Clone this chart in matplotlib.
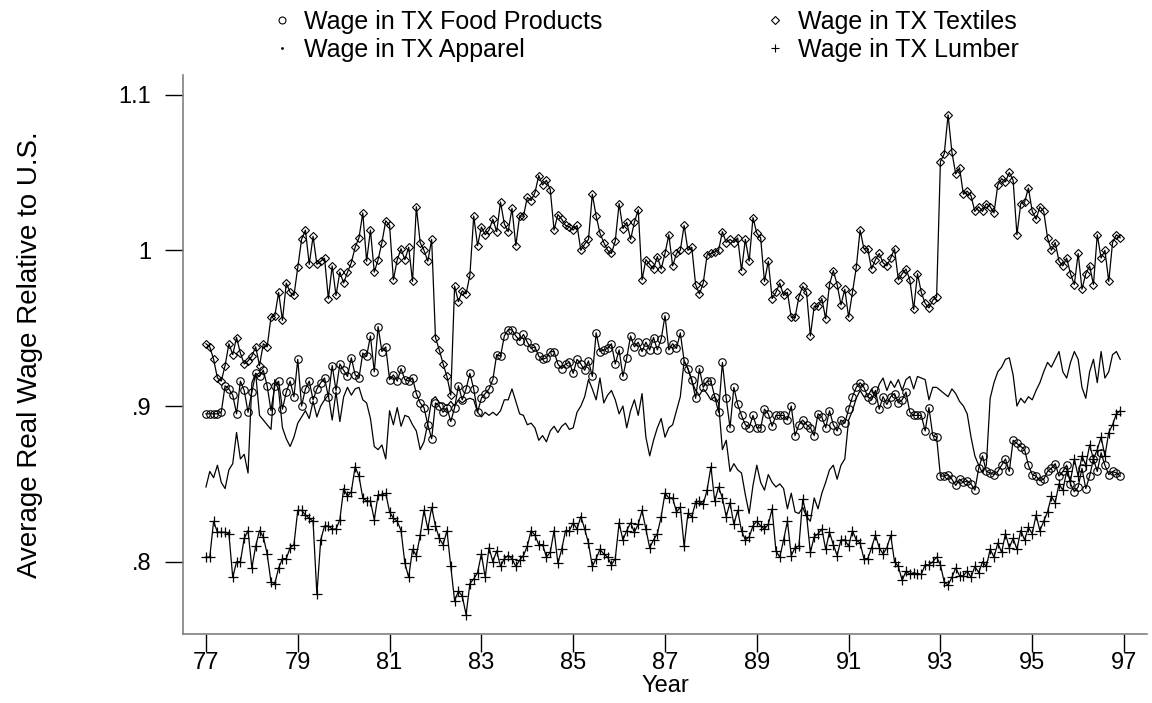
import numpy as np
import matplotlib.pyplot as plt
from matplotlib.lines import Line2D

plt.rcParams['font.family'] = ['Liberation Sans', 'DejaVu Sans']

# monthly observations, Jan 1977 - Dec 1996
months = 77 + np.arange(240) / 12.0

food = [
    .895, .895, .895, .895, .896, .913, .911, .907, .895, .916, .910, .896,
    .909, .921, .919, .923, .913, .897, .913, .916, .898, .909, .916, .906,
    .930, .900, .911, .916, .904, .911, .915, .918, .906, .926, .910, .927,
    .923, .919, .931, .920, .918, .934, .932, .945, .922, .951, .935, .938,
    .917, .920, .916, .924, .917, .916, .918, .908, .902, .899, .888, .879,
    .902, .900, .896, .899, .890, .899, .913, .904, .911, .921, .911, .896,
    .905, .908, .911, .917, .933, .932, .945, .949, .949, .945, .942, .946,
    .941, .937, .938, .932, .930, .931, .935, .935, .927, .924, .927, .928,
    .921, .930, .927, .923, .929, .919, .947, .935, .936, .937, .940, .927,
    .936, .919, .931, .945, .938, .941, .935, .941, .936, .944, .936, .943,
    .958, .936, .940, .937, .947, .929, .924, .917, .905, .924, .912, .916,
    .916, .906, .896, .928, .905, .886, .912, .901, .894, .888, .886, .894,
    .886, .886, .898, .895, .887, .894, .894, .894, .891, .900, .881, .888,
    .891, .888, .886, .881, .895, .893, .886, .897, .888, .884, .891, .889,
    .898, .906, .912, .915, .912, .906, .904, .910, .898, .906, .901, .906,
    .908, .902, .904, .909, .896, .894, .894, .894, .884, .899, .881, .880,
    .855, .855, .856, .853, .849, .853, .851, .852, .850, .846, .860, .868,
    .858, .857, .856, .858, .862, .866, .858, .878, .876, .874, .872, .862,
    .856, .855, .852, .853, .858, .860, .863, .855, .858, .862, .850, .845,
    .848, .860, .847, .855, .866, .858, .870, .862, .856, .858, .857, .855,
]

textiles = [
    .940, .938, .930, .918, .916, .926, .940, .933, .944, .934, .927, .929,
    .932, .938, .926, .940, .938, .957, .958, .973, .955, .979, .973, .971,
    .989, 1.007, 1.013, .991, 1.009, .991, .993, .995, .969, .990, .971, .986,
    .979, .986, .992, 1.002, 1.008, 1.024, .993, 1.013, .986, .994, 1.005, 1.019,
    1.016, .981, .994, 1.001, .994, 1.002, .980, 1.028, 1.005, 1.000, .993, 1.007,
    .944, .936, .927, .919, .907, .977, .967, .974, .972, .984, 1.022, 1.003,
    1.015, 1.010, 1.013, 1.020, 1.012, 1.031, 1.017, 1.012, 1.027, 1.003, 1.022, 1.022,
    1.034, 1.032, 1.037, 1.048, 1.042, 1.045, 1.039, 1.013, 1.023, 1.020, 1.016, 1.015,
    1.013, 1.016, 1.000, 1.004, 1.007, 1.036, 1.022, 1.011, 1.005, 1.000, .998, 1.006,
    1.030, 1.014, 1.018, 1.007, 1.018, 1.026, .981, .994, .991, .988, .996, .988,
    .998, 1.010, .990, .998, 1.000, 1.016, 1.000, 1.002, .978, .972, .979, .997,
    .998, .999, 1.000, 1.012, 1.005, 1.007, 1.005, 1.008, .987, 1.007, .993, 1.021,
    1.011, 1.008, .980, .993, .969, .973, .979, .971, .973, .957, .957, .970,
    .977, .973, .945, .964, .964, .969, .956, .978, .987, .978, .965, .975,
    .957, .973, .989, 1.013, 1.001, 1.001, .988, .994, .998, .992, .990, .995,
    1.001, .981, .985, .988, .981, .962, .985, .973, .966, .963, .968, .970,
    1.057, 1.062, 1.087, 1.063, 1.049, 1.053, 1.036, 1.038, 1.035, 1.025, 1.028, 1.025,
    1.030, 1.028, 1.024, 1.042, 1.046, 1.044, 1.050, 1.045, 1.010, 1.030, 1.031, 1.040,
    1.025, 1.020, 1.028, 1.025, 1.008, 1.000, 1.005, .993, .990, .995, .985, .978,
    .998, .975, .985, .990, .978, 1.010, .995, 1.000, .980, 1.005, 1.010, 1.008,
]

apparel = [
    .848, .858, .854, .862, .851, .847, .859, .863, .883, .866, .869, .857,
    .915, .921, .894, .891, .888, .885, .917, .910, .886, .879, .874, .880,
    .889, .893, .897, .892, .903, .893, .900, .904, .907, .891, .909, .890,
    .906, .912, .907, .911, .912, .904, .902, .892, .874, .872, .875, .866,
    .897, .888, .899, .887, .894, .893, .888, .884, .872, .877, .889, .904,
    .906, .902, .902, .900, .903, .900, .904, .902, .904, .905, .904, .896,
    .893, .896, .894, .896, .894, .897, .904, .904, .911, .903, .895, .894,
    .888, .889, .886, .878, .881, .877, .884, .887, .883, .887, .889, .885,
    .886, .896, .900, .906, .917, .911, .904, .918, .902, .907, .910, .904,
    .895, .900, .886, .897, .904, .894, .908, .880, .868, .878, .886, .892,
    .880, .886, .888, .897, .906, .929, .924, .916, .910, .907, .911, .908,
    .904, .906, .902, .872, .878, .858, .863, .859, .857, .843, .831, .849,
    .862, .851, .846, .856, .851, .848, .850, .847, .834, .844, .832, .831,
    .835, .829, .826, .841, .834, .844, .851, .859, .862, .853, .862, .866,
    .891, .897, .905, .910, .906, .906, .911, .906, .914, .918, .910, .916,
    .912, .917, .910, .917, .919, .911, .919, .918, .917, .904, .912, .912,
    .910, .908, .906, .911, .908, .903, .900, .895, .880, .868, .862, .857,
    .862, .905, .915, .922, .925, .930, .931, .920, .900, .905, .902, .906,
    .904, .910, .915, .922, .928, .925, .930, .935, .922, .918, .928, .935,
    .930, .912, .905, .922, .930, .915, .935, .918, .922, .933, .935, .930,
]

lumber = [
    .803, .803, .826, .819, .819, .819, .818, .790, .800, .800, .815, .820,
    .796, .810, .820, .816, .805, .787, .786, .796, .802, .802, .809, .811,
    .833, .833, .830, .828, .826, .779, .814, .823, .823, .821, .821, .827,
    .847, .842, .845, .861, .855, .841, .839, .839, .827, .843, .843, .844,
    .832, .828, .826, .820, .799, .790, .808, .804, .817, .833, .821, .835,
    .823, .815, .811, .820, .797, .775, .781, .778, .766, .786, .789, .793,
    .805, .790, .809, .800, .807, .797, .802, .804, .802, .797, .801, .804,
    .810, .820, .817, .811, .811, .803, .806, .820, .799, .808, .820, .820,
    .825, .821, .829, .821, .812, .797, .802, .808, .805, .803, .798, .802,
    .825, .814, .820, .825, .819, .824, .833, .821, .809, .814, .818, .829,
    .844, .841, .841, .832, .835, .810, .831, .829, .838, .839, .837, .846,
    .861, .839, .848, .841, .829, .838, .824, .833, .820, .814, .816, .823,
    .826, .823, .821, .824, .834, .807, .803, .814, .826, .804, .809, .810,
    .840, .830, .806, .816, .818, .821, .808, .819, .811, .804, .814, .814,
    .810, .820, .814, .812, .802, .802, .809, .817, .809, .805, .809, .817,
    .800, .797, .788, .794, .792, .793, .792, .792, .798, .798, .800, .803,
    .798, .787, .785, .790, .796, .791, .791, .794, .790, .797, .793, .800,
    .797, .808, .803, .812, .806, .818, .809, .815, .808, .820, .814, .822,
    .818, .830, .820, .826, .832, .842, .838, .850, .846, .858, .852, .866,
    .855, .868, .862, .875, .866, .872, .880, .868, .883, .888, .895, .897,
]

year_ticks = [77, 79, 81, 83, 85, 87, 89, 91, 93, 95, 97]
wage_ticks = [.8, .9, 1.0, 1.1]
wage_labels = ['.8', '.9', '1', '1.1']

fig = plt.figure(figsize=(11.52, 7.03), dpi=100)
ax = fig.add_axes([183/1152, 69/703, 964/1152, 559/703])

lw = 0.9
ax.plot(months, food, color='black', lw=lw, marker='o', ms=5.4, mfc='none', mec='black', mew=0.8)
ax.plot(months, textiles, color='black', lw=lw, marker='D', ms=4.2, mfc='none', mec='black', mew=0.8)
ax.plot(months, apparel, color='black', lw=lw)
ax.plot(months, lumber, color='black', lw=lw, marker='+', ms=7, mew=0.9)

ax.set_xlim(76.5, 97.5)
ax.set_ylim(0.7536, 1.1126)
ax.set_xticks(year_ticks)
ax.set_xticklabels([str(y) for y in year_ticks])
ax.set_yticks(wage_ticks)
ax.set_yticklabels(wage_labels)

for s in ['top', 'right']:
    ax.spines[s].set_visible(False)
for s in ['left', 'bottom']:
    ax.spines[s].set_color('#808080')
    ax.spines[s].set_linewidth(1.2)
ax.tick_params(axis='both', direction='out', length=13, width=1.0, color='black', labelsize=17)
ax.tick_params(axis='y', pad=10)
ax.tick_params(axis='x', pad=0)

ax.set_xlabel('Year', fontsize=17, labelpad=1)
ax.set_ylabel('Average Real Wage Relative to U.S.', fontsize=20, labelpad=54)

handles = [
    Line2D([], [], ls='none', marker='o', ms=5, mfc='none', mec='black', mew=0.8),
    Line2D([], [], ls='none', marker='.', ms=2, color='black'),
    Line2D([], [], ls='none', marker='D', ms=4, mfc='none', mec='black', mew=0.8),
    Line2D([], [], ls='none', marker='+', ms=6, color='black', mew=0.8),
]
labels = ['Wage in TX Food Products', 'Wage in TX Apparel',
          'Wage in TX Textiles', 'Wage in TX Lumber']
fig.legend(handles, labels, ncol=2, loc='upper center', bbox_to_anchor=(0.56, 1.0),
           frameon=False, fontsize=18, handlelength=0.8, handletextpad=0.5,
           columnspacing=6.5, labelspacing=0.15, borderaxespad=0.0)

fig.savefig('out.png', dpi=100)
